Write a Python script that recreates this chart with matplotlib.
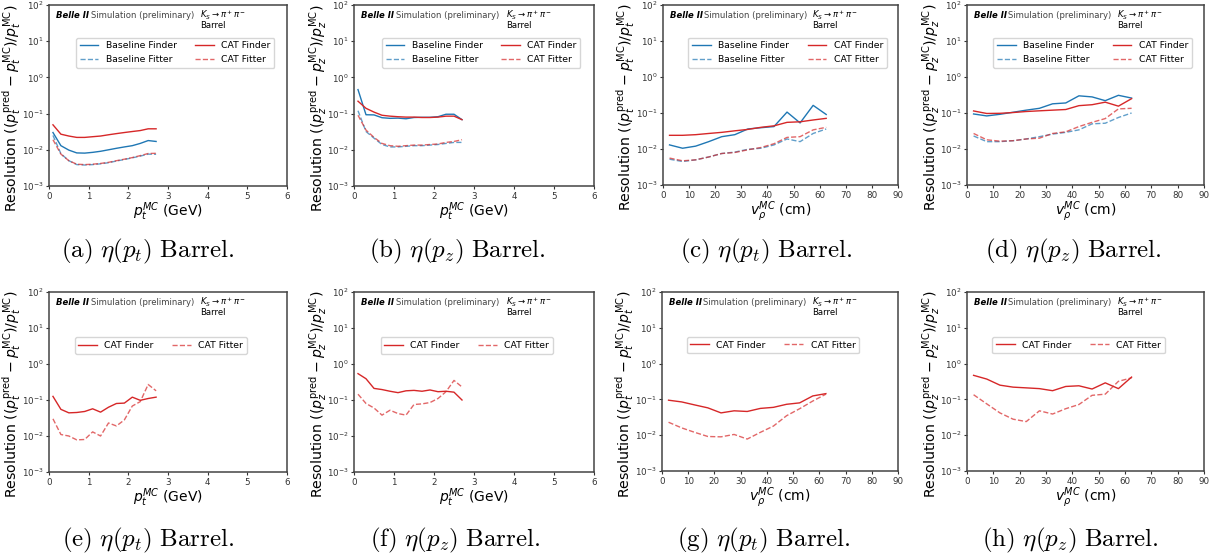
import matplotlib

matplotlib.use("Agg")
import matplotlib.pyplot as plt

plt.rcParams["mathtext.fontset"] = "dejavusans"

# ── Data ───────────────────────────────────────────────────────────────────────
pt_x = [0.1, 0.3, 0.5, 0.7, 0.9, 1.1, 1.3, 1.5, 1.7, 1.9, 2.1, 2.3, 2.5, 2.7]
vr_x = [2.5, 7.5, 12.5, 17.5, 22.5, 27.5, 32.5, 37.5, 42.5, 47.5, 52.5, 57.5, 62.5]

# (a) eta(pt) vs pt
a_base_finder = [0.030, 0.013, 0.0098, 0.0082, 0.0081, 0.0085, 0.0091, 0.0100, 0.0110, 0.0120, 0.0130, 0.0150, 0.0180, 0.0170]
a_base_fitter = [0.025, 0.0078, 0.0050, 0.0039, 0.0038, 0.0039, 0.0041, 0.0044, 0.0049, 0.0054, 0.0060, 0.0067, 0.0076, 0.0075]
a_cat_finder = [0.049, 0.027, 0.024, 0.022, 0.022, 0.023, 0.024, 0.026, 0.028, 0.030, 0.032, 0.034, 0.038, 0.038]
a_cat_fitter = [0.019, 0.0076, 0.0050, 0.0040, 0.0039, 0.0040, 0.0042, 0.0045, 0.0050, 0.0055, 0.0061, 0.0069, 0.0079, 0.0080]

# (b) eta(pz) vs pt
b_base_finder = [0.46, 0.093, 0.092, 0.077, 0.074, 0.075, 0.072, 0.078, 0.079, 0.079, 0.082, 0.096, 0.096, 0.068]
b_base_fitter = [0.12, 0.032, 0.021, 0.014, 0.012, 0.012, 0.0125, 0.013, 0.013, 0.0135, 0.014, 0.015, 0.016, 0.016]
b_cat_finder = [0.22, 0.14, 0.11, 0.090, 0.085, 0.082, 0.080, 0.080, 0.078, 0.078, 0.080, 0.085, 0.085, 0.068]
b_cat_fitter = [0.090, 0.035, 0.022, 0.015, 0.013, 0.0125, 0.013, 0.0135, 0.0135, 0.014, 0.0145, 0.016, 0.017, 0.019]

# (c) eta(pt) vs v_rho
c_base_finder = [0.013, 0.0105, 0.012, 0.016, 0.022, 0.025, 0.036, 0.039, 0.042, 0.106, 0.053, 0.163, 0.091]
c_base_fitter = [0.0052, 0.0045, 0.0050, 0.0060, 0.0075, 0.0082, 0.0098, 0.0105, 0.013, 0.019, 0.016, 0.027, 0.036]
c_cat_finder = [0.024, 0.024, 0.025, 0.027, 0.029, 0.032, 0.035, 0.040, 0.044, 0.055, 0.057, 0.064, 0.071]
c_cat_fitter = [0.0056, 0.0047, 0.0050, 0.0060, 0.0075, 0.0080, 0.0095, 0.011, 0.014, 0.021, 0.022, 0.034, 0.040]

# (d) eta(pz) vs v_rho
d_base_finder = [0.094, 0.083, 0.092, 0.105, 0.12, 0.135, 0.18, 0.19, 0.30, 0.28, 0.22, 0.31, 0.26]
d_base_fitter = [0.023, 0.016, 0.016, 0.017, 0.019, 0.022, 0.026, 0.029, 0.034, 0.050, 0.052, 0.075, 0.10]
d_cat_finder = [0.114, 0.097, 0.098, 0.103, 0.11, 0.115, 0.12, 0.125, 0.16, 0.17, 0.20, 0.155, 0.25]
d_cat_fitter = [0.027, 0.018, 0.0165, 0.017, 0.019, 0.020, 0.027, 0.030, 0.042, 0.055, 0.070, 0.13, 0.135]

# (e)-(h) CAT only
e_cat_finder = [0.126, 0.055, 0.044, 0.045, 0.048, 0.057, 0.046, 0.063, 0.080, 0.082, 0.12, 0.098, 0.11, 0.12]
e_cat_fitter = [0.030, 0.011, 0.010, 0.0078, 0.0080, 0.013, 0.010, 0.023, 0.019, 0.028, 0.068, 0.090, 0.27, 0.18]
f_cat_finder = [0.54, 0.39, 0.21, 0.195, 0.175, 0.16, 0.18, 0.185, 0.175, 0.19, 0.17, 0.175, 0.165, 0.10]
f_cat_fitter = [0.145, 0.080, 0.060, 0.038, 0.052, 0.042, 0.038, 0.075, 0.078, 0.085, 0.11, 0.17, 0.35, 0.23]
g_cat_finder = [0.095, 0.085, 0.070, 0.058, 0.042, 0.048, 0.046, 0.056, 0.060, 0.073, 0.080, 0.125, 0.145]
g_cat_fitter = [0.023, 0.016, 0.012, 0.0092, 0.0090, 0.0105, 0.0078, 0.012, 0.018, 0.035, 0.055, 0.090, 0.14]
h_cat_finder = [0.47, 0.37, 0.25, 0.22, 0.21, 0.20, 0.175, 0.23, 0.24, 0.195, 0.29, 0.20, 0.42]
h_cat_fitter = [0.135, 0.075, 0.042, 0.028, 0.024, 0.048, 0.039, 0.055, 0.072, 0.13, 0.14, 0.32, 0.40]

captions = ["a", "b", "c", "d", "e", "f", "g", "h"]
comps = ["t", "z", "t", "z", "t", "z", "t", "z"]

BLUE = "#1f77b4"
RED = "#d62728"
W, H = 1225, 558

# axes boxes in pixels: (left, top, right, bottom)
boxes = [
    (49, 5, 287, 186), (354, 5, 594, 186), (663, 5, 898, 185), (967, 5, 1204, 185),
    (49, 292, 287, 472), (354, 292, 594, 472), (662, 292, 898, 471), (967, 292, 1204, 471),
]
cap_x = [148, 457, 766, 1073, 148, 455, 764, 1070]
cap_y = [251, 251, 251, 251, 540, 540, 540, 540]

fig = plt.figure(figsize=(W / 100, H / 100), dpi=100)
fig.patch.set_facecolor("white")


def make_ax(i):
    l, t, r, b = boxes[i]
    w_px, h_px = r - l, b - t
    ax = fig.add_axes([l / W, 1 - b / H, w_px / W, h_px / H])
    ax.set_yscale("log")
    ax.set_ylim(1e-3, 1e2)
    ax.set_yticks([1e-3, 1e-2, 1e-1, 1e0, 1e1, 1e2])
    ax.minorticks_off()
    ax.tick_params(labelsize=6.3, length=2.5, width=0.8, pad=1.5, colors="#333333")
    for s in ax.spines.values():
        s.set_color("#444444")
        s.set_linewidth(1.1)
    c = comps[i]
    ax.set_ylabel(
        r"Resolution $((p_%s^{\mathrm{pred}} - p_%s^{\mathrm{MC}})/p_%s^{\mathrm{MC}})$" % (c, c, c),
        fontsize=10.2,
    )
    ax.yaxis.set_label_coords(-25 / w_px, 0.5 - 12.5 / h_px)
    if i % 4 < 2:
        ax.set_xlim(0, 6)
        ax.set_xticks([0, 1, 2, 3, 4, 5, 6])
        ax.set_xlabel(r"$p_t^{MC}$ (GeV)", fontsize=10, labelpad=0)
    else:
        ax.set_xlim(0, 90)
        ax.set_xticks([0, 10, 20, 30, 40, 50, 60, 70, 80, 90])
        ax.set_xlabel(r"$v_\rho^{MC}$ (cm)", fontsize=10, labelpad=0)
    ax.text(0.03, 0.94, "Belle II", transform=ax.transAxes, fontsize=6.1,
            fontweight="bold", fontstyle="italic", va="center")
    ax.text(0.175, 0.94, "Simulation (preliminary)", transform=ax.transAxes,
            fontsize=6.1, color="#444444", va="center")
    ax.text(0.635, 0.94, r"$K_S \rightarrow \pi^+\pi^-$", transform=ax.transAxes,
            fontsize=6.1, va="center")
    ax.text(0.635, 0.885, "Barrel", transform=ax.transAxes, fontsize=6.1, va="center")
    fig.text(cap_x[i] / W, 1 - cap_y[i] / H,
             r"$\mathrm{(%s)}\ \eta(p_%s)\ \mathrm{Barrel.}$" % (captions[i], c),
             fontsize=18, ha="center", va="center", math_fontfamily="cm")
    return ax


top_sets = [
    (pt_x, a_base_finder, a_base_fitter, a_cat_finder, a_cat_fitter),
    (pt_x, b_base_finder, b_base_fitter, b_cat_finder, b_cat_fitter),
    (vr_x, c_base_finder, c_base_fitter, c_cat_finder, c_cat_fitter),
    (vr_x, d_base_finder, d_base_fitter, d_cat_finder, d_cat_fitter),
]
for i, (x, bfi, bft, cfi, cft) in enumerate(top_sets):
    ax = make_ax(i)
    ax.plot(x, bfi, color=BLUE, lw=1.0, label="Baseline Finder")
    ax.plot(x, bft, color=BLUE, lw=1.0, ls="--", alpha=0.7, label="Baseline Fitter")
    ax.plot(x, cfi, color=RED, lw=1.0, label="CAT Finder")
    ax.plot(x, cft, color=RED, lw=1.0, ls="--", alpha=0.7, label="CAT Fitter")
    ax.legend(ncol=2, fontsize=6.7, loc="upper center", bbox_to_anchor=(0.53, 0.845))

bottom_sets = [
    (pt_x, e_cat_finder, e_cat_fitter),
    (pt_x, f_cat_finder, f_cat_fitter),
    (vr_x, g_cat_finder, g_cat_fitter),
    (vr_x, h_cat_finder, h_cat_fitter),
]
for j, (x, cfi, cft) in enumerate(bottom_sets):
    ax = make_ax(4 + j)
    ax.plot(x, cfi, color=RED, lw=1.0, label="CAT Finder")
    ax.plot(x, cft, color=RED, lw=1.0, ls="--", alpha=0.7, label="CAT Fitter")
    ax.legend(ncol=2, fontsize=6.7, loc="upper center", bbox_to_anchor=(0.47, 0.775))

fig.savefig("out.png", dpi=100, facecolor="white")
